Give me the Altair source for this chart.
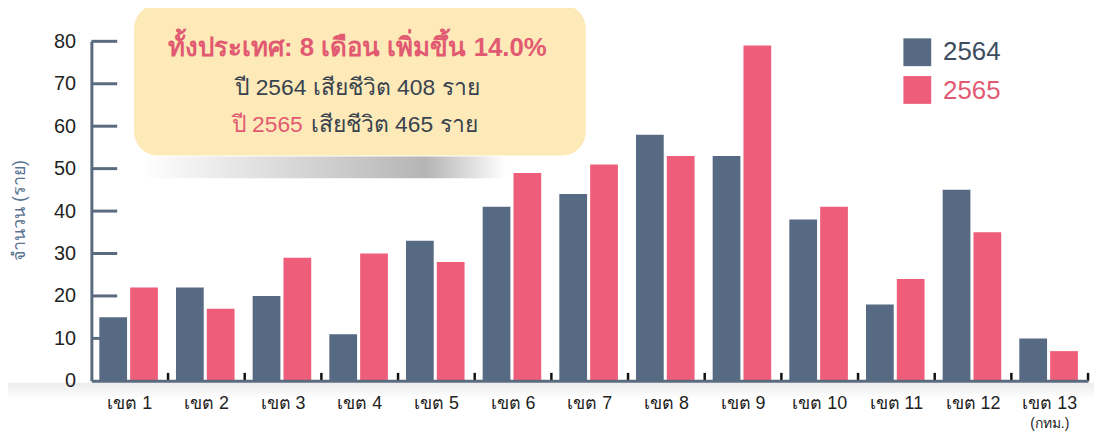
import altair as alt
import pandas as pd

regions = ["เขต 1", "เขต 2", "เขต 3", "เขต 4", "เขต 5", "เขต 6", "เขต 7",
           "เขต 8", "เขต 9", "เขต 10", "เขต 11", "เขต 12", "เขต 13"]
years = ["2564", "2565"]
v2564 = [15, 22, 20, 11, 33, 41, 44, 58, 53, 38, 18, 45, 10]
v2565 = [22, 17, 29, 30, 28, 49, 51, 53, 79, 41, 24, 35, 7]
y_ticks = [10, 20, 30, 40, 50, 60, 70, 80]
title_text = "ทั้งประเทศ: 8 เดือน เพิ่มขึ้น 14.0%"
line2_text = "ปี 2564 เสียชีวิต 408 ราย"
line3a_text = "ปี 2565"
line3b_text = "เสียชีวิต 465 ราย"
y_title = "จำนวน (ราย)"
sub_label = "(กทม.)"

C64 = "#566b83"
C65 = "#ee5e7a"
SLATE = "#5a6b80"
PINK_TXT = "#e25a72"
DARK_TXT = "#38434f"
FONT = "Liberation Sans"

W, H = 1004, 342

rows = []
for r, a, b in zip(regions, v2564, v2565):
    rows.append({"region": r, "year": "2564", "value": a})
    rows.append({"region": r, "year": "2565", "value": b})
df = pd.DataFrame(rows)
one = pd.DataFrame({"k": [0]})
ticks_df = pd.DataFrame({"t": y_ticks})
regions_df = pd.DataFrame({"region": regions})
sub_df = pd.DataFrame({"region": [regions[-1]], "s": [sub_label]})

x_scale = alt.Scale(domain=regions, paddingInner=0, paddingOuter=0)
y_scale = alt.Scale(domain=[0, 80], nice=False)

# shadow under baseline
base_shadow = alt.Chart(one).mark_rect(
    color=alt.Gradient(gradient="linear",
                       stops=[alt.GradientStop(color="#ececec", offset=0),
                              alt.GradientStop(color="#ffffff", offset=1)],
                       x1=0, x2=0, y1=0, y2=1)
).encode(x=alt.value(-92), x2=alt.value(W + 6), y=alt.value(H + 2), y2=alt.value(H + 18))

# shadow under annotation box
box_shadow = alt.Chart(one).mark_rect(
    cornerRadius=8,
    color=alt.Gradient(gradient="linear",
                       stops=[alt.GradientStop(color="#ffffff", offset=0),
                              alt.GradientStop(color="#b5b5b5", offset=0.78),
                              alt.GradientStop(color="#ffffff", offset=1)],
                       x1=0, x2=1, y1=0, y2=0)
).encode(x=alt.value(50), x2=alt.value(418), y=alt.value(116), y2=alt.value(138))

box = alt.Chart(one).mark_rect(cornerRadius=24, color="#fdeab8").encode(
    x=alt.value(43), x2=alt.value(498), y=alt.value(-37), y2=alt.value(115)
)

ytick_rules = alt.Chart(ticks_df).mark_rule(color=SLATE, strokeWidth=3).encode(
    y=alt.Y("t:Q", scale=y_scale), x=alt.value(0), x2=alt.value(26)
)

bars = alt.Chart(df).mark_bar().encode(
    x=alt.X("region:N", sort=regions, scale=x_scale,
            axis=alt.Axis(title=None, labelAngle=0, labelFontSize=18, labelColor="#222222",
                          labelFont=FONT, labelPadding=14, ticks=False,
                          domainColor=SLATE, domainWidth=3, zindex=1)),
    xOffset=alt.XOffset("year:N", scale=alt.Scale(domain=years, range=[8, 67],
                                                  paddingInner=0.1, paddingOuter=0)),
    y=alt.Y("value:Q", scale=y_scale,
            axis=alt.Axis(values=[0, 10, 20, 30, 40, 50, 60, 70, 80], grid=False, ticks=False,
                          domainColor=SLATE, domainWidth=3, labelFontSize=20,
                          labelColor="#1f1f1f", labelFont=FONT, labelPadding=16,
                          title=y_title, titleX=-72, titleY=170, titleAngle=-90,
                          titleBaseline="middle", titleAlign="center", titleFontSize=18,
                          titleColor="#5b7291", titleFontWeight="normal", titleFont=FONT,
                          zindex=1)),
    color=alt.Color("year:N", scale=alt.Scale(domain=years, range=[C64, C65]), legend=None),
)

xtick_rules = alt.Chart(regions_df).mark_rule(color="#111111", strokeWidth=2.5).encode(
    x=alt.X("region:N", sort=regions, scale=x_scale, bandPosition=1),
    y=alt.value(H - 8), y2=alt.value(H)
)

sub_text = alt.Chart(sub_df).mark_text(fontSize=14, color="#222222", font=FONT).encode(
    x=alt.X("region:N", sort=regions, scale=x_scale), y=alt.value(H + 44), text="s:N"
)

t_title = alt.Chart(one).mark_text(text=title_text, fontSize=26, fontWeight="bold",
                                   color=PINK_TXT, font=FONT, align="center",
                                   baseline="middle").encode(x=alt.value(268), y=alt.value(7))
t_line2 = alt.Chart(one).mark_text(text=line2_text, fontSize=23, color=DARK_TXT, font=FONT,
                                   align="center", baseline="middle").encode(
    x=alt.value(268), y=alt.value(47))
t_line3a = alt.Chart(one).mark_text(text=line3a_text, fontSize=23, color=PINK_TXT, font=FONT,
                                    align="right", baseline="middle").encode(
    x=alt.value(213), y=alt.value(84))
t_line3b = alt.Chart(one).mark_text(text=line3b_text, fontSize=23, color=DARK_TXT, font=FONT,
                                    align="left", baseline="middle").encode(
    x=alt.value(221), y=alt.value(84))

leg_sq1 = alt.Chart(one).mark_rect(color=C64).encode(
    x=alt.value(818), x2=alt.value(846), y=alt.value(-3), y2=alt.value(25))
leg_sq2 = alt.Chart(one).mark_rect(color=C65).encode(
    x=alt.value(818), x2=alt.value(846), y=alt.value(35), y2=alt.value(63))
leg_t1 = alt.Chart(one).mark_text(text=years[0], fontSize=26, color="#3d4d60", font=FONT,
                                  align="left", baseline="middle").encode(
    x=alt.value(858), y=alt.value(11))
leg_t2 = alt.Chart(one).mark_text(text=years[1], fontSize=26, color=PINK_TXT, font=FONT,
                                  align="left", baseline="middle").encode(
    x=alt.value(858), y=alt.value(50))

chart = alt.layer(
    base_shadow, box_shadow, box, ytick_rules, bars, xtick_rules, sub_text,
    t_title, t_line2, t_line3a, t_line3b, leg_sq1, leg_sq2, leg_t1, leg_t2
).properties(
    width=W, height=H,
    padding={"left": 84, "top": 32, "right": 6, "bottom": 52},
    autosize=alt.AutoSizeParams(type="none"),
    background="white",
).configure_view(stroke=None)

chart.save("out.html", embed_options={"renderer": "svg", "actions": False})
